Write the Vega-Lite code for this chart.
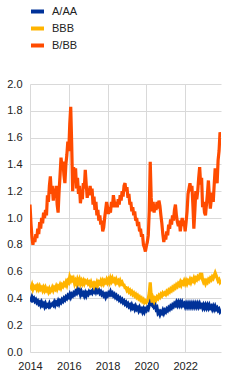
{
  "$schema": "https://vega.github.io/schema/vega-lite/v6.json",
  "width": 191,
  "height": 268,
  "autosize": {"type": "none"},
  "padding": {"left": 30, "top": 84, "right": 28, "bottom": 28},
  "background": "white",
  "config": {
    "view": {"stroke": null},
    "font": "Liberation Sans",
    "axis": {"labelFont": "Liberation Sans", "labelFontSize": 11, "labelColor": "#222222", "ticks": false, "domain": false, "gridColor": "#d9d9d9", "gridWidth": 1, "title": null},
    "legend": {"labelFont": "Liberation Sans", "labelFontSize": 11, "labelColor": "#222222"}
  },
  "data": {"values": [
{"t":2014.00,"a":0.40,"b":0.49,"c":1.10},{"t":2014.05,"a":0.39,"b":0.48,"c":0.96},{"t":2014.10,"a":0.41,"b":0.50,"c":0.86},{"t":2014.15,"a":0.39,"b":0.47,"c":0.80},{"t":2014.20,"a":0.40,"b":0.49,"c":0.85},{"t":2014.25,"a":0.38,"b":0.48,"c":0.82},{"t":2014.30,"a":0.39,"b":0.49,"c":0.88},{"t":2014.35,"a":0.37,"b":0.47,"c":0.85},{"t":2014.40,"a":0.38,"b":0.49,"c":0.92},{"t":2014.45,"a":0.36,"b":0.47,"c":0.88},
{"t":2014.50,"a":0.37,"b":0.49,"c":0.97},{"t":2014.55,"a":0.35,"b":0.47,"c":0.92},{"t":2014.60,"a":0.37,"b":0.48,"c":1.00},{"t":2014.65,"a":0.35,"b":0.46,"c":0.96},{"t":2014.70,"a":0.36,"b":0.48,"c":1.04},{"t":2014.75,"a":0.34,"b":0.46,"c":1.00},{"t":2014.80,"a":0.36,"b":0.48,"c":1.06},{"t":2014.85,"a":0.34,"b":0.46,"c":1.02},{"t":2014.90,"a":0.35,"b":0.47,"c":1.17},{"t":2014.95,"a":0.34,"b":0.45,"c":1.12},
{"t":2015.00,"a":0.36,"b":0.47,"c":1.24},{"t":2015.05,"a":0.34,"b":0.45,"c":1.31},{"t":2015.10,"a":0.35,"b":0.46,"c":1.18},{"t":2015.15,"a":0.36,"b":0.48,"c":1.24},{"t":2015.20,"a":0.35,"b":0.46,"c":1.13},{"t":2015.25,"a":0.37,"b":0.48,"c":1.22},{"t":2015.30,"a":0.35,"b":0.47,"c":1.15},{"t":2015.35,"a":0.37,"b":0.49,"c":1.24},{"t":2015.40,"a":0.36,"b":0.47,"c":1.10},{"t":2015.45,"a":0.38,"b":0.49,"c":1.04},
{"t":2015.50,"a":0.36,"b":0.48,"c":1.20},{"t":2015.55,"a":0.38,"b":0.50,"c":1.32},{"t":2015.60,"a":0.37,"b":0.48,"c":1.45},{"t":2015.65,"a":0.39,"b":0.50,"c":1.38},{"t":2015.70,"a":0.38,"b":0.49,"c":1.42},{"t":2015.75,"a":0.40,"b":0.51,"c":1.32},{"t":2015.80,"a":0.39,"b":0.50,"c":1.26},{"t":2015.85,"a":0.41,"b":0.52,"c":1.40},{"t":2015.90,"a":0.40,"b":0.50,"c":1.47},{"t":2015.95,"a":0.42,"b":0.53,"c":1.57},
{"t":2016.00,"a":0.41,"b":0.52,"c":1.50},{"t":2016.05,"a":0.43,"b":0.56,"c":1.70},{"t":2016.10,"a":0.41,"b":0.54,"c":1.83},{"t":2016.15,"a":0.43,"b":0.57,"c":1.55},{"t":2016.20,"a":0.42,"b":0.52,"c":1.20},{"t":2016.25,"a":0.44,"b":0.54,"c":1.38},{"t":2016.30,"a":0.43,"b":0.51,"c":1.28},{"t":2016.35,"a":0.45,"b":0.53,"c":1.37},{"t":2016.40,"a":0.44,"b":0.51,"c":1.22},{"t":2016.45,"a":0.47,"b":0.54,"c":1.30},
{"t":2016.50,"a":0.45,"b":0.52,"c":1.18},{"t":2016.55,"a":0.46,"b":0.54,"c":1.24},{"t":2016.60,"a":0.43,"b":0.51,"c":1.11},{"t":2016.65,"a":0.45,"b":0.53,"c":1.18},{"t":2016.70,"a":0.43,"b":0.51,"c":1.14},{"t":2016.75,"a":0.44,"b":0.53,"c":1.26},{"t":2016.80,"a":0.42,"b":0.51,"c":1.22},{"t":2016.85,"a":0.44,"b":0.53,"c":1.36},{"t":2016.90,"a":0.42,"b":0.52,"c":1.25},{"t":2016.95,"a":0.44,"b":0.53,"c":1.15},
{"t":2017.00,"a":0.43,"b":0.51,"c":1.22},{"t":2017.05,"a":0.45,"b":0.52,"c":1.17},{"t":2017.10,"a":0.44,"b":0.50,"c":1.24},{"t":2017.15,"a":0.45,"b":0.52,"c":1.18},{"t":2017.20,"a":0.44,"b":0.50,"c":1.22},{"t":2017.25,"a":0.46,"b":0.51,"c":1.10},{"t":2017.30,"a":0.45,"b":0.49,"c":1.16},{"t":2017.35,"a":0.47,"b":0.51,"c":1.06},{"t":2017.40,"a":0.45,"b":0.50,"c":1.12},{"t":2017.45,"a":0.47,"b":0.52,"c":1.02},
{"t":2017.50,"a":0.45,"b":0.50,"c":1.06},{"t":2017.55,"a":0.46,"b":0.52,"c":0.98},{"t":2017.60,"a":0.44,"b":0.51,"c":1.02},{"t":2017.65,"a":0.45,"b":0.53,"c":0.95},{"t":2017.70,"a":0.43,"b":0.51,"c":0.98},{"t":2017.75,"a":0.44,"b":0.53,"c":0.90},{"t":2017.80,"a":0.42,"b":0.51,"c":0.93},{"t":2017.85,"a":0.43,"b":0.53,"c":1.00},{"t":2017.90,"a":0.41,"b":0.52,"c":1.06},{"t":2017.95,"a":0.43,"b":0.54,"c":1.12},
{"t":2018.00,"a":0.42,"b":0.52,"c":1.08},{"t":2018.05,"a":0.44,"b":0.54,"c":1.03},{"t":2018.10,"a":0.43,"b":0.52,"c":1.08},{"t":2018.15,"a":0.45,"b":0.55,"c":1.04},{"t":2018.20,"a":0.43,"b":0.53,"c":1.12},{"t":2018.25,"a":0.44,"b":0.55,"c":1.08},{"t":2018.30,"a":0.42,"b":0.53,"c":1.17},{"t":2018.35,"a":0.43,"b":0.54,"c":1.12},{"t":2018.40,"a":0.41,"b":0.52,"c":1.08},{"t":2018.45,"a":0.42,"b":0.54,"c":1.12},
{"t":2018.50,"a":0.40,"b":0.52,"c":1.08},{"t":2018.55,"a":0.41,"b":0.53,"c":1.14},{"t":2018.60,"a":0.39,"b":0.51,"c":1.10},{"t":2018.65,"a":0.40,"b":0.53,"c":1.17},{"t":2018.70,"a":0.38,"b":0.51,"c":1.13},{"t":2018.75,"a":0.39,"b":0.52,"c":1.20},{"t":2018.80,"a":0.37,"b":0.50,"c":1.16},{"t":2018.85,"a":0.38,"b":0.50,"c":1.24},{"t":2018.90,"a":0.36,"b":0.48,"c":1.26},{"t":2018.95,"a":0.37,"b":0.48,"c":1.20},
{"t":2019.00,"a":0.35,"b":0.46,"c":1.23},{"t":2019.05,"a":0.36,"b":0.47,"c":1.15},{"t":2019.10,"a":0.34,"b":0.45,"c":1.18},{"t":2019.15,"a":0.35,"b":0.46,"c":1.10},{"t":2019.20,"a":0.33,"b":0.44,"c":1.12},{"t":2019.25,"a":0.35,"b":0.45,"c":1.05},{"t":2019.30,"a":0.33,"b":0.43,"c":1.08},{"t":2019.35,"a":0.34,"b":0.44,"c":1.02},{"t":2019.40,"a":0.32,"b":0.42,"c":1.05},{"t":2019.45,"a":0.34,"b":0.43,"c":0.98},
{"t":2019.50,"a":0.32,"b":0.41,"c":1.00},{"t":2019.55,"a":0.33,"b":0.42,"c":0.94},{"t":2019.60,"a":0.31,"b":0.40,"c":0.97},{"t":2019.65,"a":0.33,"b":0.41,"c":0.90},{"t":2019.70,"a":0.31,"b":0.39,"c":0.92},{"t":2019.75,"a":0.32,"b":0.40,"c":0.86},{"t":2019.80,"a":0.30,"b":0.38,"c":0.88},{"t":2019.85,"a":0.32,"b":0.39,"c":0.80},{"t":2019.90,"a":0.30,"b":0.37,"c":0.78},{"t":2019.95,"a":0.32,"b":0.38,"c":0.75},
{"t":2020.00,"a":0.31,"b":0.37,"c":0.79},{"t":2020.05,"a":0.33,"b":0.38,"c":0.82},{"t":2020.10,"a":0.32,"b":0.40,"c":0.87},{"t":2020.15,"a":0.35,"b":0.44,"c":1.05},{"t":2020.20,"a":0.38,"b":0.52,"c":1.42},{"t":2020.25,"a":0.36,"b":0.42,"c":1.15},{"t":2020.30,"a":0.35,"b":0.37,"c":1.05},{"t":2020.35,"a":0.37,"b":0.40,"c":1.12},{"t":2020.40,"a":0.34,"b":0.38,"c":1.04},{"t":2020.45,"a":0.35,"b":0.40,"c":1.10},
{"t":2020.50,"a":0.32,"b":0.39,"c":1.06},{"t":2020.55,"a":0.33,"b":0.41,"c":1.12},{"t":2020.60,"a":0.29,"b":0.40,"c":1.07},{"t":2020.65,"a":0.30,"b":0.42,"c":1.13},{"t":2020.70,"a":0.28,"b":0.41,"c":1.09},{"t":2020.75,"a":0.30,"b":0.43,"c":1.02},{"t":2020.80,"a":0.29,"b":0.42,"c":0.96},{"t":2020.85,"a":0.31,"b":0.44,"c":0.88},{"t":2020.90,"a":0.29,"b":0.43,"c":0.82},{"t":2020.95,"a":0.31,"b":0.44,"c":0.87},
{"t":2021.00,"a":0.30,"b":0.43,"c":0.84},{"t":2021.05,"a":0.32,"b":0.45,"c":0.90},{"t":2021.10,"a":0.31,"b":0.44,"c":0.87},{"t":2021.15,"a":0.33,"b":0.46,"c":0.95},{"t":2021.20,"a":0.32,"b":0.45,"c":0.92},{"t":2021.25,"a":0.34,"b":0.47,"c":0.99},{"t":2021.30,"a":0.33,"b":0.46,"c":0.95},{"t":2021.35,"a":0.35,"b":0.48,"c":1.02},{"t":2021.40,"a":0.34,"b":0.47,"c":0.98},{"t":2021.45,"a":0.36,"b":0.49,"c":1.06},
{"t":2021.50,"a":0.35,"b":0.48,"c":1.10},{"t":2021.55,"a":0.37,"b":0.50,"c":1.02},{"t":2021.60,"a":0.35,"b":0.49,"c":0.97},{"t":2021.65,"a":0.37,"b":0.51,"c":0.94},{"t":2021.70,"a":0.35,"b":0.50,"c":0.98},{"t":2021.75,"a":0.37,"b":0.52,"c":0.90},{"t":2021.80,"a":0.35,"b":0.50,"c":0.96},{"t":2021.85,"a":0.37,"b":0.52,"c":1.00},{"t":2021.90,"a":0.35,"b":0.51,"c":0.94},{"t":2021.95,"a":0.36,"b":0.53,"c":0.98},
{"t":2022.00,"a":0.34,"b":0.51,"c":0.90},{"t":2022.05,"a":0.36,"b":0.53,"c":0.97},{"t":2022.10,"a":0.34,"b":0.51,"c":1.05},{"t":2022.15,"a":0.36,"b":0.53,"c":1.18},{"t":2022.20,"a":0.34,"b":0.52,"c":1.22},{"t":2022.25,"a":0.36,"b":0.54,"c":1.26},{"t":2022.30,"a":0.34,"b":0.52,"c":1.20},{"t":2022.35,"a":0.36,"b":0.54,"c":1.24},{"t":2022.40,"a":0.34,"b":0.53,"c":1.10},{"t":2022.45,"a":0.36,"b":0.55,"c":0.92},
{"t":2022.50,"a":0.34,"b":0.53,"c":1.05},{"t":2022.55,"a":0.36,"b":0.55,"c":1.20},{"t":2022.60,"a":0.34,"b":0.54,"c":1.14},{"t":2022.65,"a":0.36,"b":0.56,"c":1.20},{"t":2022.70,"a":0.34,"b":0.55,"c":1.30},{"t":2022.75,"a":0.36,"b":0.57,"c":1.38},{"t":2022.80,"a":0.34,"b":0.56,"c":1.25},{"t":2022.85,"a":0.35,"b":0.59,"c":1.30},{"t":2022.90,"a":0.33,"b":0.54,"c":1.08},{"t":2022.95,"a":0.35,"b":0.52,"c":1.12},
{"t":2023.00,"a":0.33,"b":0.53,"c":1.04},{"t":2023.05,"a":0.35,"b":0.51,"c":1.02},{"t":2023.10,"a":0.33,"b":0.53,"c":1.10},{"t":2023.15,"a":0.35,"b":0.52,"c":1.18},{"t":2023.20,"a":0.33,"b":0.54,"c":1.28},{"t":2023.25,"a":0.35,"b":0.53,"c":1.16},{"t":2023.30,"a":0.33,"b":0.55,"c":1.07},{"t":2023.35,"a":0.34,"b":0.54,"c":1.14},{"t":2023.40,"a":0.32,"b":0.56,"c":1.19},{"t":2023.45,"a":0.34,"b":0.55,"c":1.12},
{"t":2023.50,"a":0.32,"b":0.57,"c":1.25},{"t":2023.55,"a":0.34,"b":0.59,"c":1.37},{"t":2023.60,"a":0.32,"b":0.57,"c":1.30},{"t":2023.65,"a":0.33,"b":0.55,"c":1.26},{"t":2023.70,"a":0.31,"b":0.53,"c":1.43},{"t":2023.75,"a":0.32,"b":0.54,"c":1.50},{"t":2023.80,"a":0.30,"b":0.52,"c":1.64},{"t":2023.85,"a":0.31,"b":0.53,"c":1.60}
  ]},
  "transform": [{"fold": ["a", "b", "c"], "as": ["k", "v"]}],
  "mark": {"type": "line", "strokeWidth": 3.2, "strokeJoin": "miter", "clip": true},
  "encoding": {
    "x": {
      "field": "t", "type": "quantitative",
      "scale": {"domain": [2014, 2023.85], "nice": false, "zero": false},
      "axis": {"values": [2014, 2016, 2018, 2020, 2022], "format": "d", "labelPadding": 8, "labelFlush": false, "grid": true}
    },
    "y": {
      "field": "v", "type": "quantitative",
      "scale": {"domain": [0, 2], "nice": false},
      "axis": {"values": [0, 0.2, 0.4, 0.6, 0.8, 1.0, 1.2, 1.4, 1.6, 1.8, 2.0], "format": ".1f", "labelPadding": 8, "grid": true}
    },
    "color": {
      "field": "k", "type": "nominal",
      "scale": {"domain": ["a", "b", "c"], "range": ["#003299", "#ffb400", "#ff4b00"]},
      "legend": {
        "title": null, "orient": "none", "legendX": -1, "legendY": -81,
        "labelExpr": "{'a': 'A/AA', 'b': 'BBB', 'c': 'B/BB'}[datum.label]",
        "symbolType": "stroke", "symbolSize": 169, "symbolStrokeWidth": 4,
        "rowPadding": -1, "labelOffset": 6
      }
    }
  }
}
